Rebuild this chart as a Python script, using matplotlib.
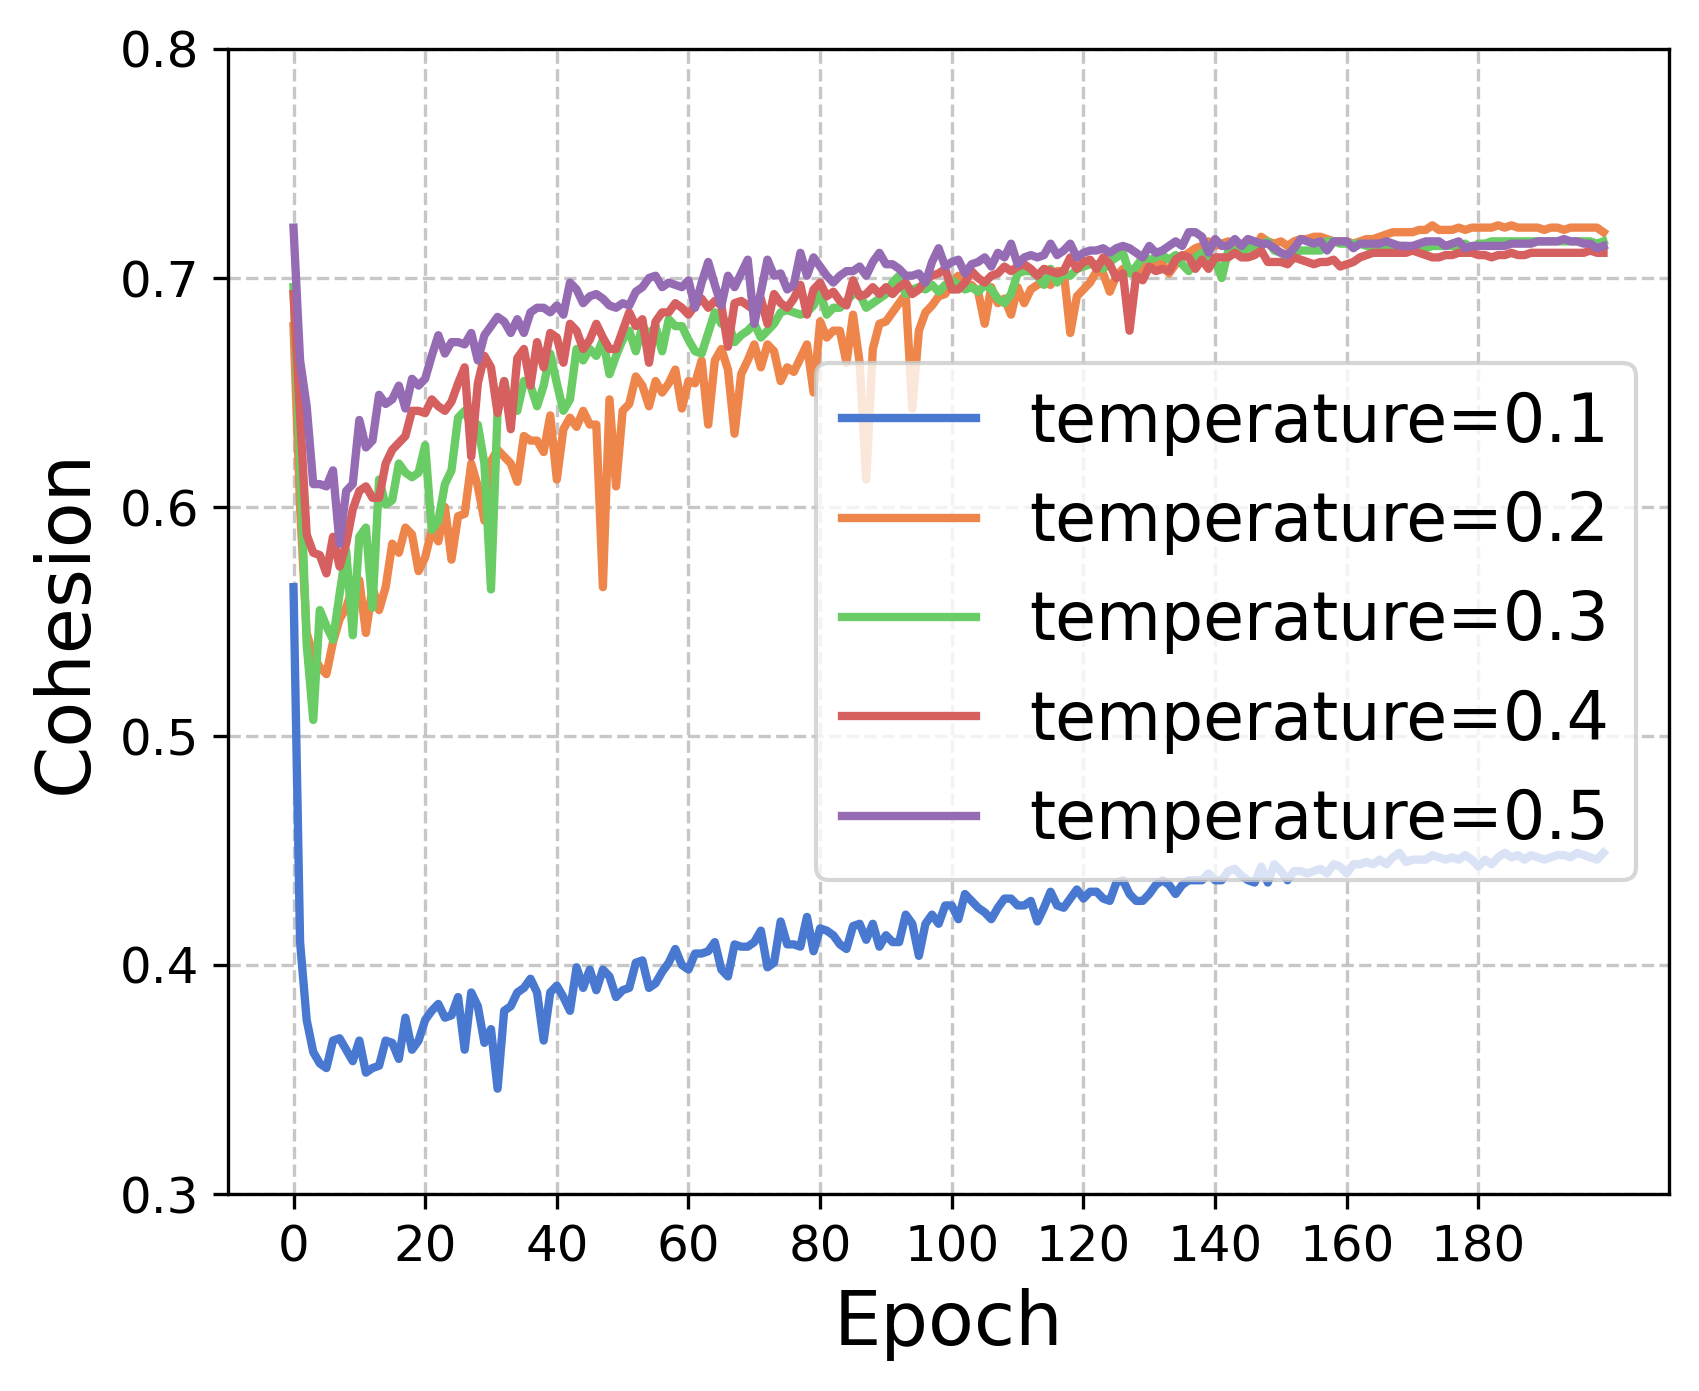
import matplotlib

matplotlib.use("Agg")
import matplotlib.pyplot as plt
import numpy as np

# --- Data (one value per epoch) ---
temp_01 = [
    .565, .410, .376, .362, .357, .355, .367, .368, .363, .358,
    .367, .353, .355, .356, .367, .366, .359, .377, .363, .367,
    .376, .380, .383, .377, .378, .386, .363, .388, .382, .366,
    .372, .346, .380, .382, .388, .390, .394, .388, .367, .388,
    .391, .386, .380, .399, .390, .398, .389, .398, .395, .386,
    .389, .390, .401, .402, .390, .392, .397, .401, .407, .400,
    .398, .405, .405, .406, .410, .398, .395, .409, .408, .408,
    .410, .415, .399, .401, .419, .409, .409, .408, .421, .406,
    .416, .415, .413, .409, .407, .417, .418, .411, .418, .408,
    .413, .410, .410, .422, .418, .404, .418, .422, .418, .426,
    .426, .420, .431, .428, .425, .423, .420, .425, .429, .429,
    .426, .426, .428, .419, .425, .432, .426, .425, .429, .433,
    .429, .432, .432, .429, .428, .436, .437, .431, .428, .428,
    .431, .435, .437, .435, .431, .435, .437, .437, .437, .440,
    .437, .437, .441, .442, .439, .437, .436, .443, .436, .444,
    .441, .437, .441, .441, .440, .441, .442, .440, .444, .443,
    .440, .444, .444, .445, .444, .446, .444, .447, .449, .445,
    .446, .446, .446, .448, .447, .446, .447, .446, .448, .446,
    .443, .446, .444, .447, .449, .447, .448, .446, .448, .447,
    .446, .447, .448, .448, .447, .449, .448, .447, .446, .449,
]
temp_02 = [
    .679, .600, .545, .535, .530, .527, .541, .551, .556, .565,
    .568, .545, .565, .555, .565, .584, .580, .591, .588, .572,
    .578, .590, .585, .600, .577, .596, .597, .619, .609, .594,
    .620, .625, .622, .619, .611, .631, .629, .629, .624, .640,
    .612, .634, .639, .635, .642, .636, .636, .565, .647, .609,
    .642, .645, .657, .653, .644, .655, .650, .654, .660, .643,
    .655, .654, .664, .636, .664, .669, .660, .632, .658, .664,
    .671, .661, .671, .668, .655, .661, .659, .665, .671, .650,
    .681, .674, .677, .677, .663, .684, .663, .612, .669, .680,
    .681, .685, .689, .693, .643, .677, .685, .688, .692, .693,
    .698, .701, .696, .697, .694, .680, .696, .689, .691, .684,
    .696, .689, .695, .697, .698, .697, .703, .703, .676, .692,
    .695, .698, .703, .702, .694, .701, .704, .703, .701, .705,
    .706, .707, .706, .702, .706, .709, .711, .713, .714, .716,
    .714, .715, .716, .713, .714, .717, .712, .718, .716, .715,
    .716, .714, .716, .717, .717, .718, .718, .717, .716, .716,
    .716, .715, .716, .717, .717, .718, .719, .720, .720, .720,
    .720, .721, .721, .723, .721, .721, .721, .722, .721, .722,
    .722, .722, .722, .723, .722, .723, .722, .722, .722, .722,
    .721, .722, .722, .721, .722, .722, .722, .722, .722, .720,
]
temp_03 = [
    .696, .620, .540, .507, .555, .548, .542, .562, .581, .544,
    .587, .591, .556, .612, .601, .603, .619, .615, .613, .615,
    .627, .590, .594, .610, .616, .639, .642, .636, .636, .619,
    .564, .642, .655, .642, .642, .655, .653, .644, .653, .667,
    .654, .642, .647, .669, .664, .669, .666, .673, .658, .666,
    .673, .677, .668, .679, .675, .679, .668, .682, .679, .679,
    .673, .668, .667, .676, .685, .680, .681, .672, .675, .677,
    .680, .674, .677, .680, .685, .686, .685, .684, .685, .688,
    .694, .684, .687, .687, .690, .693, .693, .687, .689, .691,
    .693, .698, .701, .693, .695, .696, .695, .697, .694, .697,
    .699, .697, .695, .696, .694, .697, .695, .691, .689, .693,
    .702, .703, .703, .701, .697, .704, .698, .702, .701, .704,
    .705, .706, .706, .704, .707, .709, .711, .702, .705, .709,
    .708, .709, .710, .708, .710, .706, .703, .709, .711, .709,
    .708, .700, .712, .712, .711, .713, .714, .714, .716, .712,
    .711, .709, .711, .712, .712, .712, .712, .716, .716, .715,
    .715, .715, .715, .714, .713, .713, .713, .714, .714, .714,
    .713, .713, .713, .714, .714, .714, .714, .714, .715, .713,
    .715, .715, .716, .716, .716, .716, .716, .716, .716, .716,
    .716, .716, .716, .716, .716, .716, .716, .716, .715, .716,
]
temp_04 = [
    .693, .640, .588, .580, .579, .571, .587, .574, .584, .599,
    .607, .609, .604, .604, .619, .625, .628, .631, .642, .642,
    .641, .647, .644, .642, .646, .654, .661, .622, .654, .666,
    .661, .641, .655, .634, .665, .669, .653, .672, .661, .676,
    .674, .663, .680, .677, .669, .673, .680, .674, .669, .669,
    .677, .685, .679, .682, .663, .681, .685, .685, .689, .687,
    .684, .688, .691, .687, .690, .688, .670, .689, .690, .688,
    .686, .691, .680, .693, .689, .687, .691, .697, .684, .695,
    .698, .692, .694, .690, .688, .699, .692, .693, .696, .693,
    .696, .693, .696, .698, .693, .695, .699, .701, .702, .704,
    .695, .695, .698, .703, .700, .698, .701, .702, .705, .703,
    .705, .706, .704, .701, .704, .703, .702, .703, .709, .704,
    .707, .708, .704, .709, .706, .700, .702, .677, .701, .699,
    .705, .703, .704, .703, .708, .710, .709, .704, .708, .704,
    .709, .709, .709, .711, .709, .709, .710, .712, .707, .707,
    .707, .706, .709, .708, .707, .706, .707, .707, .708, .705,
    .706, .707, .709, .710, .711, .711, .711, .711, .711, .711,
    .712, .711, .710, .709, .709, .710, .710, .711, .711, .711,
    .710, .710, .709, .710, .710, .711, .710, .710, .711, .711,
    .711, .711, .711, .711, .711, .711, .711, .712, .711, .711,
]
temp_05 = [
    .722, .664, .644, .610, .610, .609, .616, .584, .607, .610,
    .638, .626, .629, .649, .645, .647, .653, .643, .656, .653,
    .656, .666, .675, .667, .672, .672, .671, .676, .664, .675,
    .679, .683, .681, .676, .682, .676, .685, .687, .687, .685,
    .688, .684, .698, .695, .689, .692, .693, .691, .688, .687,
    .689, .688, .694, .696, .700, .701, .696, .698, .697, .696,
    .699, .687, .698, .707, .697, .688, .701, .696, .702, .708,
    .680, .694, .708, .701, .702, .695, .697, .711, .701, .709,
    .705, .701, .698, .701, .703, .703, .705, .701, .707, .711,
    .706, .706, .704, .701, .701, .702, .698, .707, .713, .705,
    .707, .708, .702, .706, .707, .709, .705, .711, .709, .715,
    .706, .709, .710, .709, .710, .715, .710, .712, .715, .709,
    .711, .712, .712, .713, .711, .713, .714, .713, .711, .709,
    .714, .711, .712, .714, .716, .714, .720, .720, .718, .711,
    .717, .714, .714, .717, .714, .717, .716, .715, .715, .713,
    .711, .710, .713, .717, .716, .715, .716, .712, .716, .716,
    .716, .713, .715, .715, .715, .715, .716, .715, .714, .714,
    .714, .715, .716, .716, .716, .714, .715, .716, .713, .714,
    .714, .714, .714, .714, .714, .715, .715, .715, .715, .716,
    .716, .716, .716, .717, .716, .716, .715, .715, .713, .714,
]

series = [temp_01, temp_02, temp_03, temp_04, temp_05]
labels = [f"temperature={t}" for t in ["0.1", "0.2", "0.3", "0.4", "0.5"]]
# seaborn "muted" palette
colors = ["#4878d0", "#ee854a", "#6acc64", "#d65f5f", "#956cb4"]

epochs = np.arange(len(temp_01))

W, H = 1699, 1391
fig = plt.figure(figsize=(W / 300, H / 300), dpi=300)
# axes box in pixels: left 228, right 1669, top 49, bottom 1194
ax = fig.add_axes([228 / W, 1 - 1194 / H, (1669 - 228) / W, (1194 - 49) / H])

for vals, lab, col in zip(series, labels, colors):
    ax.plot(epochs, vals, color=col, linewidth=2, label=lab)

ax.set_ylim(0.3, 0.8)
ax.set_yticks(np.arange(0.3, 0.81, 0.1))
ax.set_xticks(np.arange(0, 181, 20))
ax.tick_params(labelsize=12)
ax.grid(True, linestyle="--", alpha=0.7)
ax.set_xlabel("Epoch", fontsize=18)
ax.set_ylabel("Cohesion", fontsize=18)
ax.legend(loc="center right", fontsize=16)

fig.savefig("out.png", dpi=300)
